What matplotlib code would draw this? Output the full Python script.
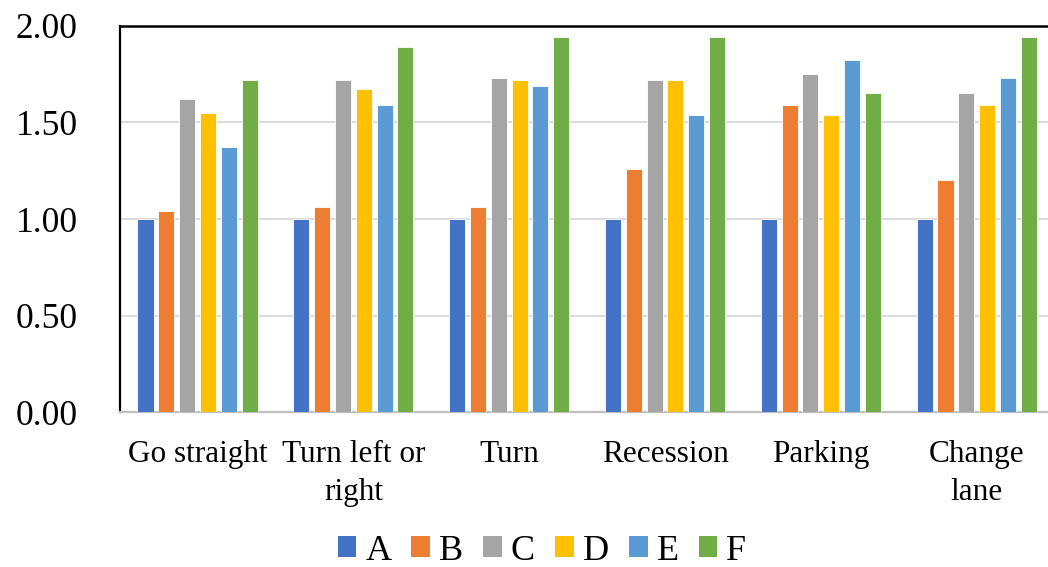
import numpy as np
import matplotlib
matplotlib.use("Agg")
import matplotlib.pyplot as plt
from matplotlib.patches import Patch

# categories and series
categories = ["Go straight", "Turn left or\nright", "Turn", "Recession", "Parking", "Change\nlane"]
series_names = ["A", "B", "C", "D", "E", "F"]
A = [1.00, 1.00, 1.00, 1.00, 1.00, 1.00]
B = [1.04, 1.06, 1.06, 1.26, 1.59, 1.20]
C = [1.62, 1.72, 1.73, 1.72, 1.75, 1.65]
D = [1.55, 1.67, 1.72, 1.72, 1.54, 1.59]
E = [1.37, 1.59, 1.69, 1.54, 1.82, 1.73]
F = [1.72, 1.89, 1.94, 1.94, 1.65, 1.94]
colors = ["#4472C4", "#ED7D31", "#A5A5A5", "#FFC000", "#5B9BD5", "#70AD47"]

plt.rcParams['font.family'] = ['Liberation Serif', 'DejaVu Serif']

W, H = 1048, 567
fig = plt.figure(figsize=(W / 100, H / 100), dpi=100)
# the plot area runs past the right edge of the picture, as in the reference
left, right, top, bottom = 119.6, 1054.6, 25.7, 412.3
ax = fig.add_axes([left / W, 1 - bottom / H, (right - left) / W, (bottom - top) / H])

x = np.arange(len(categories))
pitch = 0.1335
width = 0.103
for i, (vals, c) in enumerate(zip([A, B, C, D, E, F], colors)):
    ax.bar(x + (i - 2.5) * pitch, vals, width, color=c, edgecolor="white",
           linewidth=0.6, zorder=3, label=series_names[i])

ax.set_xlim(-0.5, len(categories) - 0.5)
ax.set_ylim(0, 2.0)
ax.set_yticks([0, 0.5, 1.0, 1.5, 2.0])
ax.set_yticklabels([f"{v:.2f}" for v in [0, 0.5, 1.0, 1.5, 2.0]], fontsize=25.5)
ax.set_xticks(x)
ax.set_xticklabels(categories, fontsize=22.5, linespacing=1.42)
ax.tick_params(axis="y", length=0, pad=30)
ax.tick_params(axis="x", length=0, pad=20)
ax.grid(axis="y", color="#d9d9d9", linewidth=1.3, zorder=0)

ax.spines["right"].set_visible(False)
ax.spines["top"].set_color("black")
ax.spines["top"].set_linewidth(1.8)
ax.spines["left"].set_color("black")
ax.spines["left"].set_linewidth(1.6)
ax.spines["bottom"].set_color("#bfbfbf")
ax.spines["bottom"].set_linewidth(1.6)

handles = [Patch(facecolor=c, edgecolor="none") for c in colors]
fig.legend(handles, series_names, loc="center", bbox_to_anchor=(542 / W, 1 - 551 / H),
           ncol=6, frameon=False, fontsize=26, handlelength=0.52, handleheight=0.52,
           handletextpad=0.25, columnspacing=0.55)

fig.savefig("out.png", dpi=100)
